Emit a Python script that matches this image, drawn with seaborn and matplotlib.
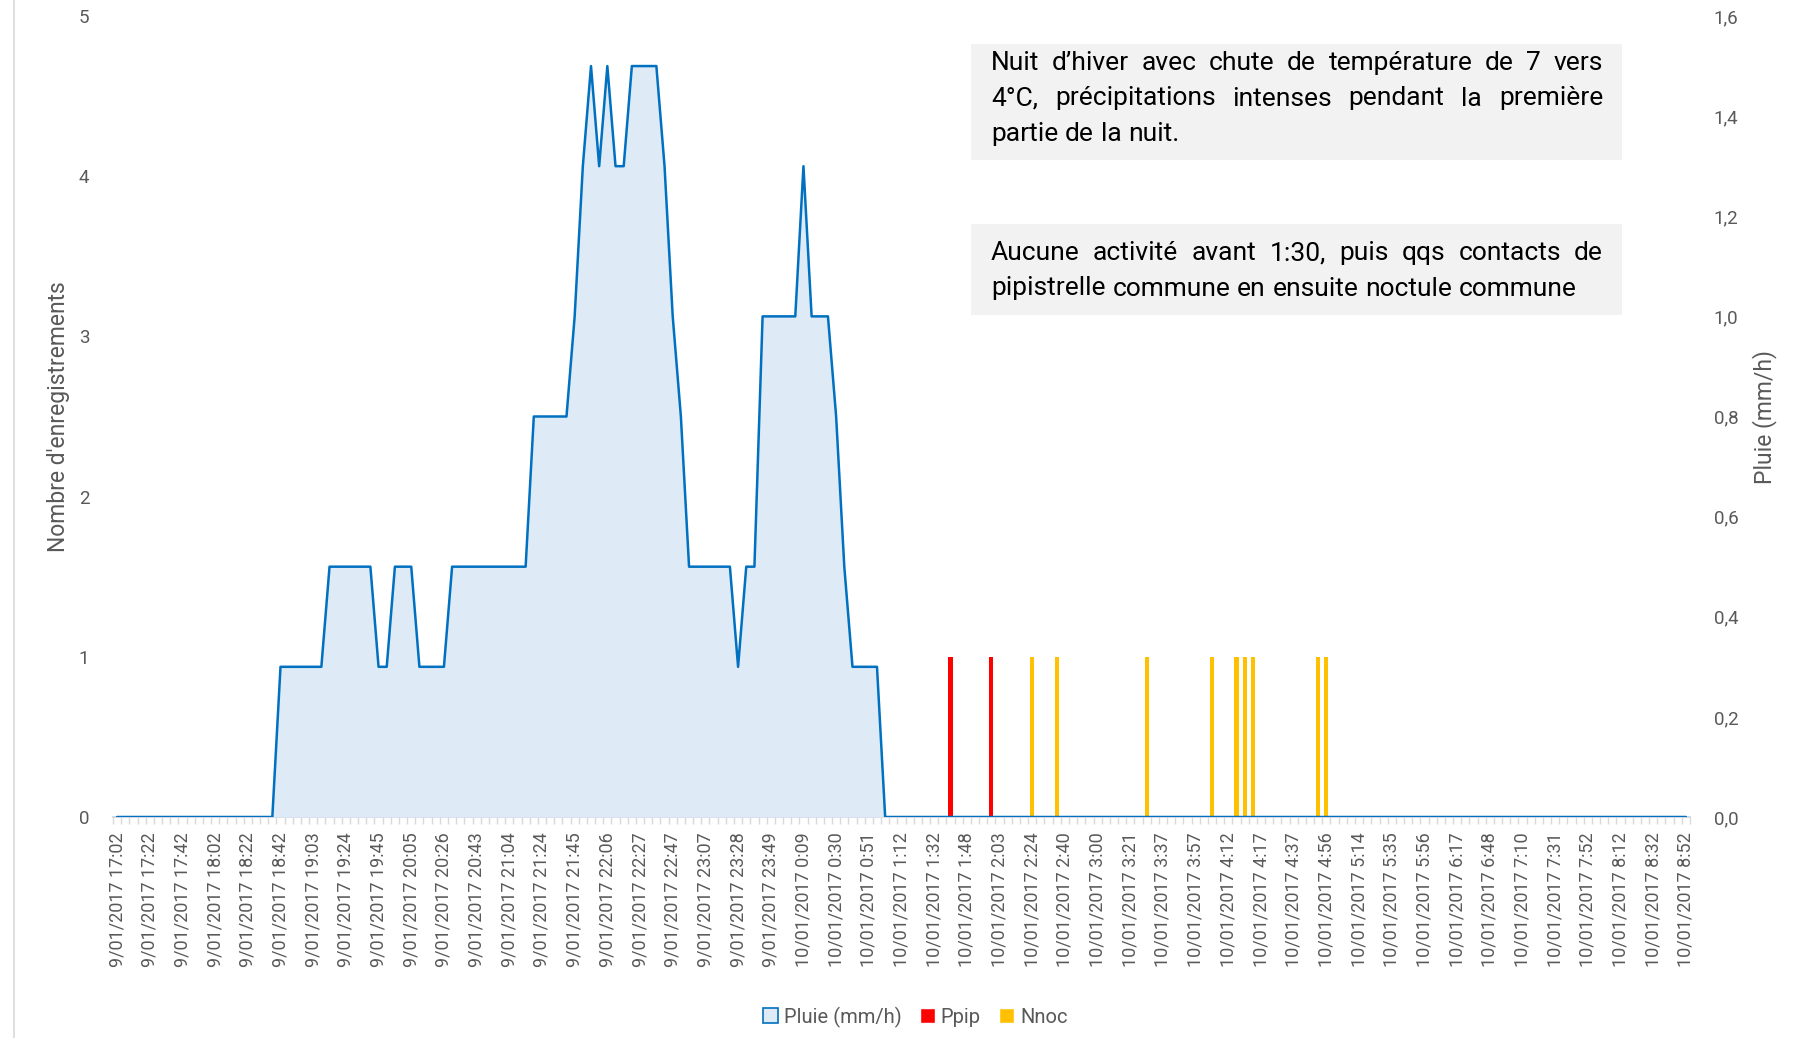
import numpy as np
import pandas as pd
import seaborn as sns
import matplotlib.pyplot as plt
from matplotlib.patches import Patch, Rectangle
from matplotlib.lines import Line2D
from matplotlib import ticker

# x axis: one label every 4th category
tick_labels = [
    "9/01/2017 17:02", "9/01/2017 17:22", "9/01/2017 17:42", "9/01/2017 18:02",
    "9/01/2017 18:22", "9/01/2017 18:42", "9/01/2017 19:03", "9/01/2017 19:24",
    "9/01/2017 19:45", "9/01/2017 20:05", "9/01/2017 20:26", "9/01/2017 20:43",
    "9/01/2017 21:04", "9/01/2017 21:24", "9/01/2017 21:45", "9/01/2017 22:06",
    "9/01/2017 22:27", "9/01/2017 22:47", "9/01/2017 23:07", "9/01/2017 23:28",
    "9/01/2017 23:49", "10/01/2017 0:09", "10/01/2017 0:30", "10/01/2017 0:51",
    "10/01/2017 1:12", "10/01/2017 1:32", "10/01/2017 1:48", "10/01/2017 2:03",
    "10/01/2017 2:24", "10/01/2017 2:40", "10/01/2017 3:00", "10/01/2017 3:21",
    "10/01/2017 3:37", "10/01/2017 3:57", "10/01/2017 4:12", "10/01/2017 4:17",
    "10/01/2017 4:37", "10/01/2017 4:56", "10/01/2017 5:14", "10/01/2017 5:35",
    "10/01/2017 5:56", "10/01/2017 6:17", "10/01/2017 6:48", "10/01/2017 7:10",
    "10/01/2017 7:31", "10/01/2017 7:52", "10/01/2017 8:12", "10/01/2017 8:32",
    "10/01/2017 8:52",
]
label_step = 4

# pluie (mm/h), one value per category (193 rows)
rain = [
    0, 0, 0, 0, 0, 0, 0, 0, 0, 0, 0, 0, 0, 0, 0, 0, 0, 0, 0, 0,
    0.3, 0.3, 0.3, 0.3, 0.3, 0.3, 0.5, 0.5, 0.5, 0.5, 0.5, 0.5, 0.3, 0.3, 0.5, 0.5,
    0.5, 0.3, 0.3, 0.3, 0.3, 0.5, 0.5, 0.5, 0.5, 0.5, 0.5, 0.5, 0.5, 0.5, 0.5,
    0.8, 0.8, 0.8, 0.8, 0.8, 1.0, 1.3, 1.5, 1.3, 1.5, 1.3, 1.3, 1.5, 1.5, 1.5, 1.5,
    1.3, 1.0, 0.8, 0.5, 0.5, 0.5, 0.5, 0.5, 0.5, 0.3, 0.5, 0.5,
    1.0, 1.0, 1.0, 1.0, 1.0, 1.3, 1.0, 1.0, 1.0, 0.8, 0.5, 0.3, 0.3, 0.3, 0.3,
    0, 0, 0, 0, 0, 0, 0, 0, 0, 0, 0, 0, 0, 0, 0, 0, 0, 0, 0, 0,
    0, 0, 0, 0, 0, 0, 0, 0, 0, 0, 0, 0, 0, 0, 0, 0, 0, 0, 0, 0,
    0, 0, 0, 0, 0, 0, 0, 0, 0, 0, 0, 0, 0, 0, 0, 0, 0, 0, 0, 0,
    0, 0, 0, 0, 0, 0, 0, 0, 0, 0, 0, 0, 0, 0, 0, 0, 0, 0, 0, 0,
    0, 0, 0, 0, 0, 0, 0, 0, 0, 0, 0, 0, 0, 0, 0, 0, 0, 0, 0,
]

# bat recordings (category index, count)
ppip_idx = [102, 107]
ppip_n = [1, 1]
nnoc_idx = [112, 115, 126, 134, 137, 138, 139, 147, 148]
nnoc_n = [1, 1, 1, 1, 1, 1, 1, 1, 1]

note_1 = [
    ("Nuit d’hiver avec chute de température de 7 vers", True),
    ("4°C, précipitations intenses pendant la première", True),
    ("partie de la nuit.", False),
]
note_2 = [
    ("Aucune activité avant 1:30, puis qqs contacts de", True),
    ("pipistrelle commune en ensuite noctule commune", False),
]

n_cat = len(rain)
df_rain = pd.DataFrame({"idx": np.arange(n_cat), "pluie": rain})
df_bats = pd.DataFrame({
    "idx": ppip_idx + nnoc_idx,
    "n": ppip_n + nnoc_n,
    "espece": ["Ppip"] * len(ppip_idx) + ["Nnoc"] * len(nnoc_idx),
})
bat_colors = {"Ppip": "#FF0000", "Nnoc": "#FFC000"}

sns.set_theme(style="white")
plt.rcParams["font.family"] = ["Roboto", "DejaVu Sans"]

W, H = 1794, 1038
fig = plt.figure(figsize=(W / 100, H / 100), dpi=100)
ax = fig.add_axes([113 / W, 1 - 817 / H, 1577 / W, (817 - 16) / H])
ax2 = ax.twinx()

grey = "#595959"
line_col = "#0070C0"
fill_col = "#DEEAF6"

# bats on the primary axis
for sp, grp in df_bats.groupby("espece"):
    ax.bar(grp["idx"], grp["n"], width=0.5, color=bat_colors[sp], lw=0)

# rain on the secondary axis
ax2.fill_between(df_rain["idx"], df_rain["pluie"], color=fill_col, lw=0)
sns.lineplot(data=df_rain, x="idx", y="pluie", color=line_col, lw=1.8, ax=ax2)

for a in (ax, ax2):
    a.set_xlim(-0.5, n_cat - 0.5)
    for s in a.spines.values():
        s.set_visible(False)
    a.grid(False)
    a.set_xlabel("")
    a.set_ylabel("")
ax.spines["bottom"].set_visible(True)
ax.spines["bottom"].set_color("#C9D3DD")

ax.set_ylim(0, 5)
ax.set_yticks(range(6))
ax.tick_params(axis="y", length=0, pad=17, labelsize=13.5, labelcolor=grey)
ax2.set_ylim(0, 1.6)
ax2.set_yticks(np.arange(0, 1.61, 0.2))
ax2.yaxis.set_major_formatter(ticker.FuncFormatter(lambda v, p: f"{v:.1f}".replace(".", ",")))
ax2.tick_params(axis="y", length=0, pad=17, labelsize=13.5, labelcolor=grey)

ax.set_xticks(np.arange(0, n_cat, label_step))
ax.set_xticklabels(tick_labels, rotation=90)
ax.set_xticks(np.arange(-0.5, n_cat, 1), minor=True)
ax.tick_params(axis="x", which="major", length=0, pad=11, labelsize=13, labelcolor=grey)
ax.tick_params(axis="x", which="minor", length=5, width=1, color="#D9D9D9", bottom=True)

fig.text(59 / W, 1 - 417 / H, "Nombre d'enregistrements", rotation=90,
         ha="center", va="center", fontsize=16.5, color=grey)
fig.text(1765 / W, 1 - 417 / H, "Pluie (mm/h)", rotation=90,
         ha="center", va="center", fontsize=16.5, color=grey)

# legend
handles = [Patch(facecolor=fill_col, edgecolor=line_col, lw=1.2),
           Patch(facecolor="#FF0000"), Patch(facecolor="#FFC000")]
fig.legend(handles, ["Pluie (mm/h)", "Ppip", "Nnoc"], loc="center",
           bbox_to_anchor=(915 / W, 1 - 1017 / H), ncol=3, frameon=False,
           fontsize=14.5, labelcolor=grey, handlelength=0.75, handleheight=0.75,
           handletextpad=0.3, columnspacing=0.9)

# chart border on the left
fig.add_artist(Line2D([14 / W, 14 / W], [0, 1], color="#D9D9D9", lw=1.2))

# annotation boxes
fig.add_artist(Rectangle((971 / W, 1 - 160 / H), 651 / W, 116 / H,
                         facecolor="#F2F2F2", edgecolor="none"))
fig.add_artist(Rectangle((971 / W, 1 - 315 / H), 651 / W, 91 / H,
                         facecolor="#F2F2F2", edgecolor="none"))

fig.canvas.draw()
renderer = fig.canvas.get_renderer()


def justified(lines, x0, x1, y_first, step, size):
    space = 0.26 * size * 100 / 72
    for k, (line, stretch) in enumerate(lines):
        y = 1 - (y_first + k * step + 8) / H
        words = line.split(" ")
        texts = [fig.text(0, y, w, fontsize=size, va="baseline", color="black") for w in words]
        widths = [t.get_window_extent(renderer).width for t in texts]
        gap = (x1 - x0 - sum(widths)) / (len(words) - 1) if stretch else space
        x = x0
        for t, w in zip(texts, widths):
            t.set_x(x / W)
            x += w + gap


justified(note_1, 991, 1603, 62, 35.5, 19)
justified(note_2, 991, 1603, 252, 35.5, 19)

fig.savefig("out.png", dpi=100)
